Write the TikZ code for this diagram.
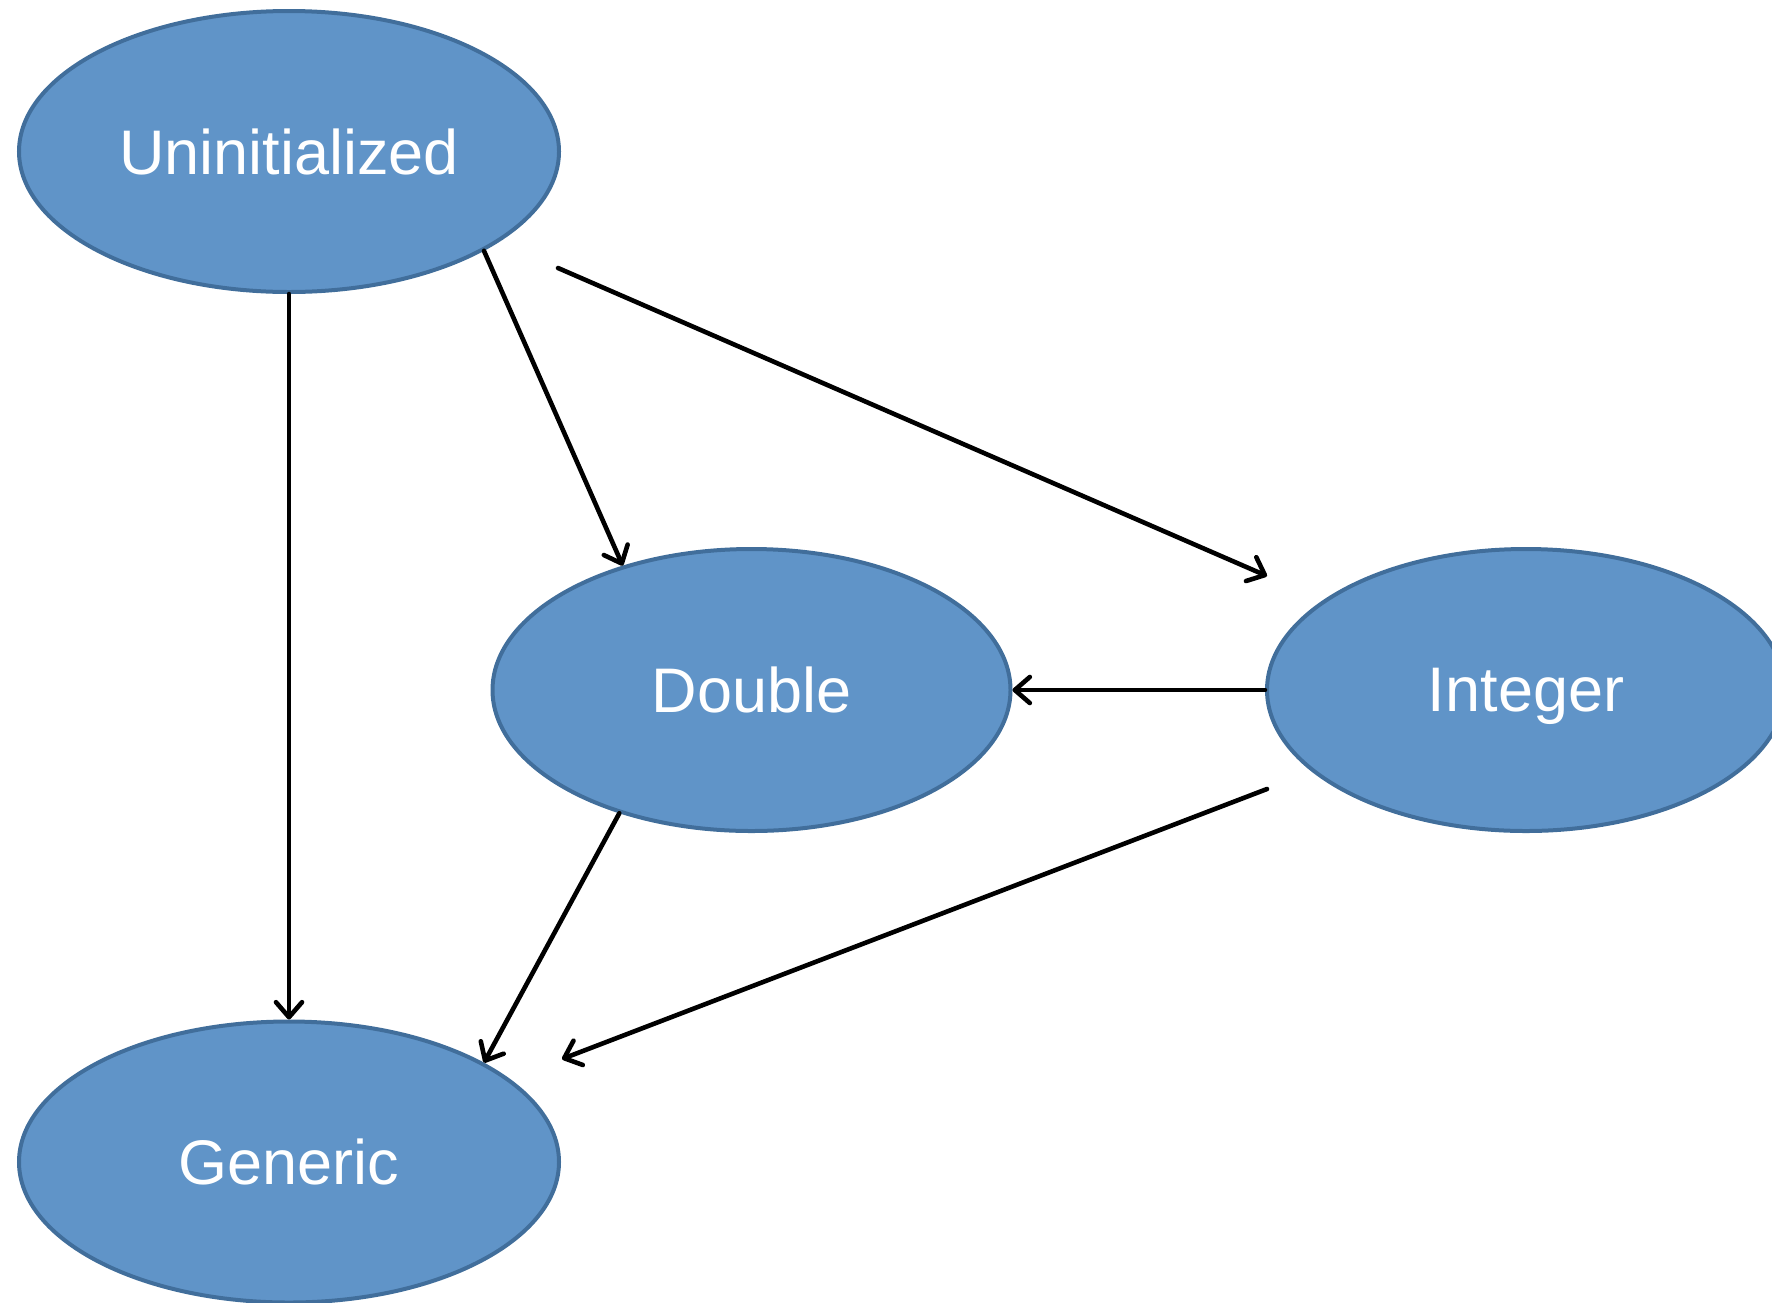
\documentclass[tikz,border=0pt]{standalone}
\usepackage{fontspec}
\setmainfont{Liberation Sans}
\usetikzlibrary{shapes.geometric,arrows.meta}
\definecolor{statefill}{RGB}{96,148,200}
\definecolor{stateline}{RGB}{65,110,155}
\begin{document}
\begin{tikzpicture}[x=1pt,y=-1pt,
  state/.style={ellipse,draw=stateline,line width=4pt,fill=statefill,
    inner sep=0pt,text=white,text depth=0pt,font=\fontsize{63}{70}\selectfont},
  bigstate/.style={state,minimum width=540pt,minimum height=281pt},
  smallstate/.style={state,minimum width=518pt,minimum height=282pt},
  trans/.style={draw=black,line width=4.6pt,line cap=round,
    -{Straight Barb[length=15pt,width=26pt,line cap=round,line join=round]}}]
  \useasboundingbox (0,0) rectangle (1772,1302);
  \begin{scope}
    \clip (0,0) rectangle (1772,1302);
    \node[bigstate]   (U) at (289,151.5) {Uninitialized};
    \node[smallstate] (D) at (751.5,690) {Double};
    \node[smallstate] (I) at (1526,690) {Integer};
    \node[bigstate]   (G) at (289,1162) {Generic};
  \end{scope}
  % free ends of the two long connectors
  \coordinate (ua) at (558,268);
  \coordinate (ib) at (1267,576);
  \coordinate (ic) at (1267,789);
  \coordinate (gd) at (562,1059);
  \draw[trans] (U.south) -- (G.north);
  \draw[trans] (U.-27.5) -- (D.136.7);
  \draw[trans] (ua) -- (ib);
  \draw[trans] (I.west) -- (D.east);
  \draw[trans] (D.-137.7) -- (G.27.3);
  \draw[trans] (ic) -- (gd);
\end{tikzpicture}
\end{document}
